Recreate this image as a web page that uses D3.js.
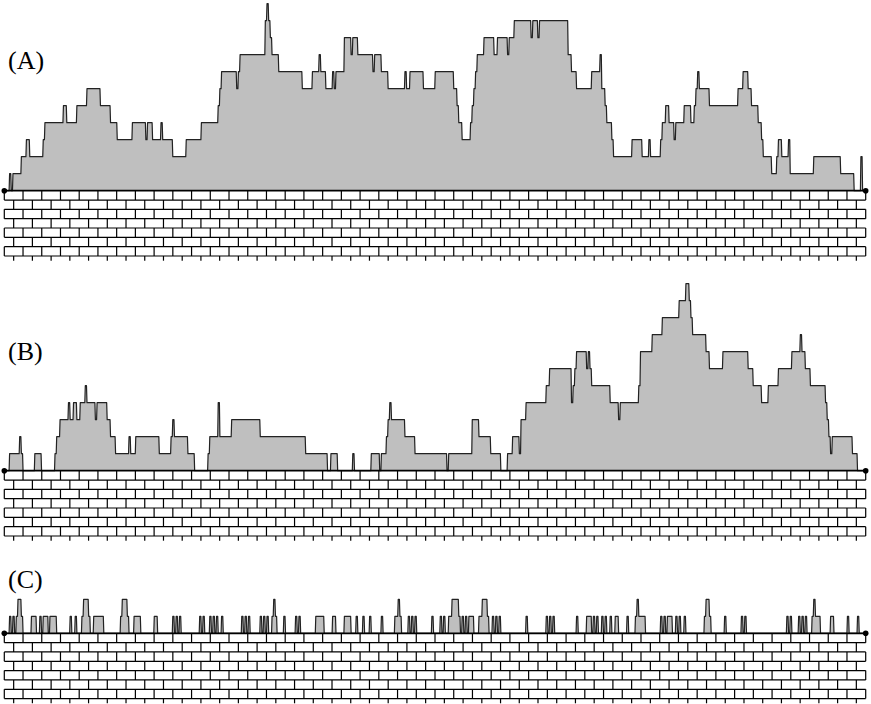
<!DOCTYPE html>
<html>
<head>
<meta charset="utf-8">
<script src="https://cdn.jsdelivr.net/npm/d3@7/dist/d3.min.js"></script>
<style>
  html, body { margin: 0; padding: 0; background: #fff; }
</style>
</head>
<body>
<script>
// lattice of 512 sites, profiles given as [first site, height] breakpoints
const sites = 512
const labels = ["(A)", "(B)", "(C)"]

const profileA = [[0,0],[3,1],[4,0],[5,1],[10,2],[13,3],[15,2],[23,3],[24,4],[35,5],[37,4],[43,5],[49,6],[57,5],[63,4],[67,3],[76,4],[84,3],[85,4],[88,3],[93,4],[94,3],[100,2],[108,3],[117,4],[127,5],[128,6],[129,7],[138,6],[139,7],[140,8],[155,10],[156,11],[157,10],[158,9],[159,8],[163,7],[177,6],[183,7],[187,8],[188,7],[191,6],[195,7],[196,6],[197,7],[202,9],[206,8],[207,9],[210,8],[219,7],[220,8],[224,7],[228,6],[238,7],[239,6],[241,7],[249,6],[256,7],[267,6],[269,5],[270,4],[272,3],[277,4],[278,5],[279,6],[280,7],[281,8],[285,9],[291,8],[293,9],[299,8],[300,9],[303,10],[313,9],[314,10],[317,9],[318,10],[335,8],[337,7],[340,6],[349,7],[354,8],[355,6],[357,5],[358,4],[361,3],[362,2],[373,3],[379,2],[383,3],[384,2],[390,3],[391,4],[393,5],[395,4],[398,3],[399,4],[404,5],[408,4],[410,5],[411,6],[412,7],[413,6],[419,5],[436,6],[439,7],[442,6],[444,5],[448,4],[450,3],[451,2],[456,1],[459,2],[460,3],[462,2],[466,3],[467,1],[481,2],[497,1],[505,0],[509,2],[510,0]]

const profileB = [[0,0],[3,1],[9,2],[10,1],[11,0],[18,1],[22,0],[30,1],[31,2],[33,3],[38,4],[39,3],[41,4],[43,3],[45,4],[48,5],[49,4],[54,3],[55,4],[61,3],[63,2],[66,1],[74,2],[75,1],[78,2],[92,1],[99,2],[100,3],[101,2],[109,1],[113,0],[121,1],[122,2],[127,4],[128,2],[135,3],[152,2],[179,1],[192,0],[194,1],[198,0],[207,1],[208,0],[218,1],[223,0],[224,1],[227,2],[228,3],[229,4],[230,3],[238,2],[244,1],[263,0],[264,1],[278,3],[282,2],[289,1],[295,0],[299,1],[302,2],[306,1],[307,3],[310,4],[322,5],[324,6],[337,4],[338,5],[339,6],[340,7],[346,6],[347,7],[348,6],[349,5],[360,4],[365,3],[366,4],[377,5],[378,7],[385,8],[391,9],[401,10],[405,11],[407,10],[408,9],[409,8],[417,7],[419,6],[427,7],[442,6],[445,5],[450,4],[454,5],[460,6],[468,7],[473,8],[474,7],[476,6],[479,5],[488,4],[489,3],[490,2],[491,1],[492,2],[504,1],[507,0]]

const profileC = [[0,0],[3,1],[4,0],[5,1],[6,0],[7,1],[8,2],[10,1],[11,0],[16,1],[19,0],[21,1],[22,0],[23,1],[26,0],[27,1],[31,0],[39,1],[40,0],[42,1],[43,0],[46,1],[47,2],[50,1],[51,0],[53,1],[59,0],[69,1],[70,2],[73,1],[74,0],[77,1],[81,0],[89,1],[91,0],[100,1],[101,0],[102,1],[103,0],[104,1],[105,0],[116,1],[117,0],[118,1],[119,0],[122,1],[123,0],[124,1],[125,0],[126,1],[127,0],[129,1],[130,0],[141,1],[142,0],[143,1],[144,0],[145,1],[146,0],[152,1],[153,0],[154,1],[155,0],[156,1],[157,0],[159,1],[160,2],[161,1],[162,0],[166,1],[167,0],[173,1],[174,0],[175,1],[176,0],[185,1],[190,0],[195,1],[197,0],[202,1],[206,0],[209,1],[210,0],[213,1],[214,0],[217,1],[218,0],[224,1],[225,0],[232,1],[234,2],[235,1],[236,0],[240,1],[241,0],[242,1],[243,0],[244,1],[245,0],[254,1],[255,0],[259,1],[260,0],[261,1],[262,0],[264,1],[266,2],[270,1],[271,0],[272,1],[273,0],[274,1],[275,0],[276,1],[279,0],[282,1],[284,2],[287,1],[288,0],[290,1],[291,0],[292,1],[293,0],[294,1],[295,0],[310,1],[311,0],[322,1],[323,0],[324,1],[325,0],[326,1],[327,0],[340,1],[341,0],[346,1],[349,0],[350,1],[351,0],[352,1],[353,0],[355,1],[356,0],[357,1],[358,0],[360,1],[361,0],[363,1],[365,0],[370,1],[371,0],[375,1],[376,2],[377,1],[381,0],[390,1],[391,0],[392,1],[393,0],[394,1],[397,0],[399,1],[400,0],[401,1],[402,0],[404,1],[405,0],[416,1],[417,2],[419,1],[420,0],[428,1],[429,0],[438,1],[439,0],[440,1],[441,0],[465,1],[466,0],[467,1],[468,0],[472,1],[473,0],[474,1],[475,0],[476,1],[477,0],[480,1],[481,2],[482,1],[485,0],[491,1],[493,0],[501,1],[502,0],[507,1],[508,0]]

const width = 871
const height = 704
const levelH = 17
const slant = 0.3 // part of a site used by the step between two heights

const x = d3.scaleLinear().domain([0, sites]).range([4.3, 865.7])

const expand = (breaks) => {
  const h = new Array(sites).fill(0)
  breaks.forEach(([s, v], k) => {
    const end = k + 1 < breaks.length ? breaks[k + 1][0] : sites
    for (let i = s; i < end; i++) h[i] = v
  })
  return h
}

const svg = d3.select("body").append("svg")
  .attr("width", width)
  .attr("height", height)
  .attr("xmlns", "http://www.w3.org/2000/svg")

const panels = [
  { label: labels[0], data: profileA, base: 190.7, labelY: 69 },
  { label: labels[1], data: profileB, base: 470.7, labelY: 360 },
  { label: labels[2], data: profileC, base: 633.3, labelY: 587.5 },
]

const drawWall = (g, base) => {
  const rowH = 9.33
  const wallH = 70
  const bw = (x(sites) - x(0)) / 46
  const rows = d3.range(0, Math.ceil(wallH / rowH))

  g.append("g")
    .selectAll("line")
    .data(rows.filter(k => k > 0))
    .enter().append("line")
    .attr("x1", x(0)).attr("x2", x(sites))
    .attr("y1", k => base + k * rowH)
    .attr("y2", k => base + k * rowH)
    .attr("stroke", "#000")
    .attr("stroke-width", 1.2)

  let joints = []
  for (const k of rows) {
    const top = base + k * rowH
    const bottom = Math.min(top + rowH, base + wallH)
    const off = (k % 2) * bw / 2
    for (let j = 0; j <= 46; j++) {
      const xx = x(0) + off + j * bw
      if (xx <= x(sites) + 0.5) joints.push({ x: xx, top, bottom })
    }
  }
  g.append("g")
    .selectAll("line")
    .data(joints)
    .enter().append("line")
    .attr("x1", d => d.x).attr("x2", d => d.x)
    .attr("y1", d => d.top).attr("y2", d => d.bottom)
    .attr("stroke", "#000")
    .attr("stroke-width", 1.2)
}

for (const p of panels) {
  const g = svg.append("g")
  const y = d3.scaleLinear().domain([0, 11]).range([p.base, p.base - 11 * levelH])
  const h = expand(p.data)

  let pts = [[0, 0]]
  h.forEach((v, i) => {
    pts.push([i + slant / 2, v])
    pts.push([i + 1 - slant / 2, v])
  })
  pts.push([sites, 0])

  drawWall(g, p.base)

  g.append("path")
    .datum(pts)
    .attr("fill", "#bfbfbf")
    .attr("d", d3.area().x(d => x(d[0])).y0(p.base).y1(d => y(d[1])))

  g.append("path")
    .datum(pts)
    .attr("fill", "none")
    .attr("stroke", "#222")
    .attr("stroke-width", 1.2)
    .attr("stroke-linejoin", "round")
    .attr("d", d3.line().x(d => x(d[0])).y(d => y(d[1])))

  g.append("line")
    .attr("x1", x(0)).attr("x2", x(sites))
    .attr("y1", p.base).attr("y2", p.base)
    .attr("stroke", "#000")
    .attr("stroke-width", 1.8)

  g.selectAll("circle")
    .data([0, sites])
    .enter().append("circle")
    .attr("cx", d => x(d))
    .attr("cy", p.base)
    .attr("r", 2.8)
    .attr("fill", "#000")

  g.append("text")
    .attr("x", 8)
    .attr("y", p.labelY)
    .attr("style", "font-family:'Liberation Serif', serif; font-size:26px;")
    .text(p.label)
}
</script>
</body>
</html>
